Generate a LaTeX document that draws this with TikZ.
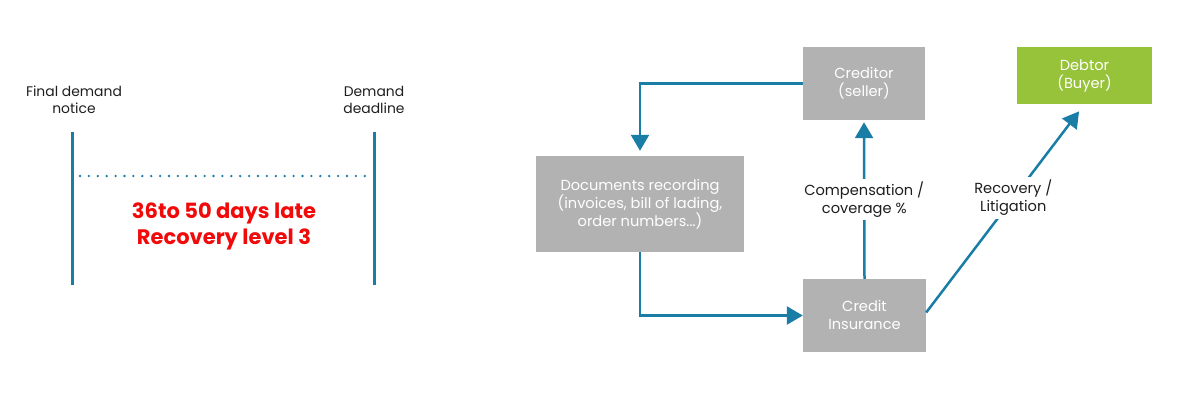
\documentclass[tikz,border=0pt]{standalone}
\usepackage{fontspec}
\setmainfont{Poppins}
\usetikzlibrary{arrows.meta}
\definecolor{flowblue}{HTML}{1A7DA6}
\definecolor{boxgray}{HTML}{B2B2B2}
\definecolor{debtgreen}{HTML}{97C33B}
\definecolor{alertred}{HTML}{F00A0A}
\definecolor{labelblack}{HTML}{1E1E1E}
\tikzset{
  graybox/.style={fill=boxgray, text=white, align=center, inner sep=0pt,
    font=\fontsize{14.6}{18}\selectfont},
  greenbox/.style={graybox, fill=debtgreen},
  flow/.style={draw=flowblue, line width=2.5pt, -{Triangle[width=18pt,length=16pt]}},
  flowlabel/.style={fill=white, text=labelblack, align=center, inner sep=3pt,
    font=\fontsize{14.6}{18}\selectfont},
  timelabel/.style={text=labelblack, align=center, inner sep=0pt,
    font=\fontsize{13.9}{17}\selectfont},
  bar/.style={draw=flowblue, line width=3pt}
}
\begin{document}
\begin{tikzpicture}[x=1pt,y=-1pt]
\useasboundingbox (0,0) rectangle (1200,400);
% left timeline
\node[timelabel] (fdn) at (74,100) {Final demand\\notice};
\node[timelabel] (ddl) at (374,100) {Demand\\deadline};
\coordinate (lt) at (72,132);
\coordinate (lb) at (72,285);
\coordinate (rt) at (374,132);
\coordinate (rb) at (374,285);
\draw[bar] (lt) -- (lb);
\draw[bar] (rt) -- (rb);
\coordinate (dl) at (80,176);
\coordinate (dr) at (370,176);
\draw[draw=flowblue, line width=2.6pt, line cap=round, dash pattern=on 0pt off 8.9pt] (dl) -- (dr);
\node[text=alertred, align=center, font=\fontsize{21}{26}\bfseries] (late) at (224,226) {36to 50 days late\\Recovery level 3};
% right diagram
\node[graybox, minimum width=122pt, minimum height=73pt] (cred) at (864,83.5) {Creditor\\(seller)};
\node[greenbox, minimum width=135pt, minimum height=57pt] (deb) at (1084.5,75.5) {Debtor\\(Buyer)};
\node[graybox, minimum width=208pt, minimum height=96pt] (docs) at (640,204) {Documents recording\\(invoices, bill of lading,\\order numbers...)};
\node[graybox, minimum width=123pt, minimum height=73pt] (ci) at (864.5,315.5) {Credit\\Insurance};
\draw[flow, shorten >=5pt] (cred.west) -| (docs.north);
\draw[flow] (docs.south) |- (ci.west);
\draw[flow, shorten >=2pt] (ci.north) -- node[flowlabel, midway] (comp) {Compensation /\\coverage \%} (cred.south);
\draw[flow, shorten >=9pt] ([yshift=3pt]ci.east) -- node[flowlabel, pos=0.55] (rec) {Recovery /\\Litigation} (deb.south);
\end{tikzpicture}
\end{document}
